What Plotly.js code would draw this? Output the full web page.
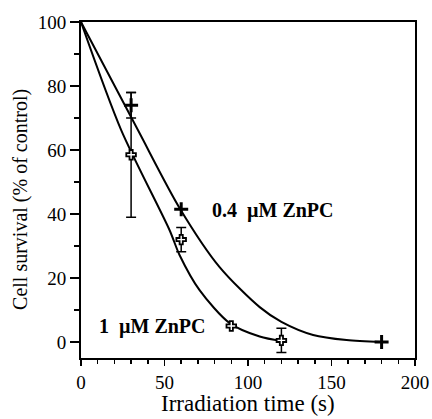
<!DOCTYPE html>
<html>
<head>
<meta charset="utf-8">
<script src="https://cdn.plot.ly/plotly-3.0.1.min.js"></script>
<style>html,body{margin:0;padding:0;background:#fff;}#chart{width:432px;height:419px;}</style>
</head>
<body>
<div id="chart"></div>
<script>
// 0.4 µM ZnPC measured points
const t04 = [30, 60, 180];
const s04 = [74, 41.5, 0];
const e04 = [4, 0, 0];
// 1 µM ZnPC measured points
const t1 = [30, 60, 90, 120];
const s1 = [58.5, 32, 5, 0.5];
const e1 = [19.5, 3.8, 0, 3.8];
// fitted curves
const fitT04 = [0, 34, 59, 83, 107, 120, 139, 159, 180];
const fitS04 = [100, 66.3, 41.9, 23.4, 10.9, 6.3, 2.2, 0.6, 0];
const fitT1 = [0, 24, 53, 59, 71, 89, 107, 120];
const fitS1 = [100, 66.3, 35, 27.2, 16.2, 5.9, 1.7, 0.3];
// axis ticks
const xTicks = [0, 50, 100, 150, 200];
const yTicks = [0, 20, 40, 60, 80, 100];

const serif = 'Liberation Serif, DejaVu Serif, serif';

const traces = [
  {x: fitT04, y: fitS04, mode: 'lines', line: {color: '#000', width: 2, shape: 'spline', smoothing: 0.8}, showlegend: false},
  {x: fitT1, y: fitS1, mode: 'lines', line: {color: '#000', width: 2, shape: 'spline', smoothing: 0.8}, showlegend: false},
  {x: t1, y: s1, mode: 'markers',
   error_y: {type: 'data', array: e1, visible: true, color: '#000', thickness: 1.5, width: 5},
   marker: {symbol: 'cross', size: 8, color: '#fff', line: {color: '#000', width: 1.8}}, showlegend: false},
  {x: t04, y: s04, mode: 'markers',
   error_y: {type: 'data', array: e04, visible: true, color: '#000', thickness: 1.5, width: 5},
   marker: {symbol: 'cross-thin', size: 10, color: '#000', line: {color: '#000', width: 3}}, showlegend: false}
];

const layout = {
  width: 432, height: 419,
  margin: {l: 81, r: 17, t: 22, b: 61},
  paper_bgcolor: '#fff', plot_bgcolor: '#fff',
  font: {family: serif, color: '#000', size: 18},
  xaxis: {
    range: [0, 200], tickvals: xTicks, ticktext: xTicks.map(String),
    showgrid: false, zeroline: false, showline: true, linecolor: '#000', linewidth: 2, mirror: true,
    ticks: 'outside', ticklen: 6, tickwidth: 1.5, tickcolor: '#000',
    minor: {dtick: 10, ticks: 'outside', ticklen: 4, tickwidth: 1.5, tickcolor: '#000'},
    tickfont: {family: serif, size: 19}
  },
  yaxis: {
    range: [-5, 100], tickvals: yTicks, ticktext: yTicks.map(String),
    showgrid: false, zeroline: false, showline: true, linecolor: '#000', linewidth: 2, mirror: true,
    ticks: 'outside', ticklen: 9, tickwidth: 1.5, tickcolor: '#000',
    minor: {dtick: 10, ticks: 'outside', ticklen: 5, tickwidth: 1.5, tickcolor: '#000'},
    tickfont: {family: serif, size: 19}
  },
  annotations: [
    {x: 0.5, y: -0.134, xref: 'paper', yref: 'paper', text: 'Irradiation time (s)', showarrow: false, xanchor: 'center', yanchor: 'middle', font: {family: serif, size: 23}},
    {x: -0.183, y: 0.473, xref: 'paper', yref: 'paper', text: 'Cell survival (% of control)', textangle: -90, showarrow: false, xanchor: 'center', yanchor: 'middle', font: {family: serif, size: 20}},
    {x: 77.5, y: 41, xref: 'x', yref: 'y', text: '<b>0.4  µM ZnPC</b>', showarrow: false, xanchor: 'left', yanchor: 'middle', font: {family: serif, size: 20}},
    {x: 9.6, y: 4.7, xref: 'x', yref: 'y', text: '<b>1  µM ZnPC</b>', showarrow: false, xanchor: 'left', yanchor: 'middle', font: {family: serif, size: 20}}
  ],
  hovermode: false
};

Plotly.newPlot('chart', traces, layout, {staticPlot: true, displayModeBar: false});
</script>
</body>
</html>
